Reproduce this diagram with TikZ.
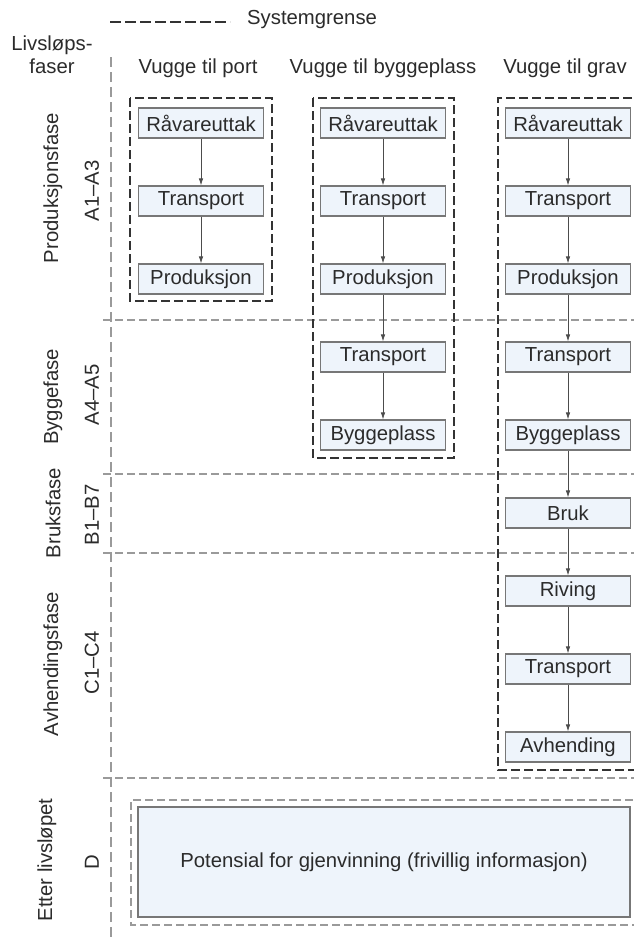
\documentclass[tikz,border=0pt]{standalone}
\usepackage{fontspec}
\setmainfont{Liberation Sans}
\usetikzlibrary{arrows.meta}
\definecolor{boxfill}{HTML}{EEF4FB}
\definecolor{boxline}{HTML}{777777}
\definecolor{txt}{HTML}{2B2B2B}
\definecolor{phaseline}{HTML}{9A9A9A}
\definecolor{sysline}{HTML}{333333}
\tikzset{
  proc/.style={draw=boxline, line width=1.1pt, fill=boxfill, minimum width=125pt, minimum height=30pt, inner sep=0pt, text=txt, font=\fontsize{20.3}{23}\selectfont},
  lbl/.style={text=txt, inner sep=0pt, font=\fontsize{20.3}{23}\selectfont},
  rlbl/.style={lbl, rotate=90},
  flow/.style={draw=black!70, line width=0.8pt, -{Latex[length=7pt,width=4.5pt]}},
  phasesep/.style={draw=phaseline, line width=1.2pt, dash pattern=on 8pt off 4pt},
  sysbound/.style={draw=sysline, line width=2.4pt, dash pattern=on 9pt off 4pt},
  dthin/.style={draw=phaseline, line width=1.1pt, dash pattern=on 8pt off 4pt}
}
\begin{document}
\begin{tikzpicture}[x=1pt,y=-1pt]
\useasboundingbox (0,0) rectangle (634,940);
\fill[white] (0,0) rectangle (634,940);

% legend
\coordinate (lgA) at (110,22);
\coordinate (lgB) at (230,22);
\draw[sysbound, line width=2.1pt, dash pattern=on 11pt off 4pt] (lgA) -- (lgB);
\node[lbl, anchor=west] (legend) at (247,20) {Systemgrense};

% left header
\node[lbl, align=center] (livs) at (52,55) {Livsløps-\\faser};

% column headers
\node[lbl] (h1) at (198,68) {Vugge til port};
\node[lbl] (h2) at (383,68) {Vugge til byggeplass};
\node[lbl] (h3) at (565,68) {Vugge til grav};

% left vertical dashed line
\coordinate (vtop) at (111,57);
\coordinate (vbot) at (111,942);
\draw[draw=phaseline, line width=1.3pt, dash pattern=on 10pt off 5pt] (vtop) -- (vbot);

% phase separators
\foreach \yy/\nm in {320/s1,474/s2,553/s3,778/s4}{
  \coordinate (\nm a) at (103,\yy);
  \coordinate (\nm b) at (636,\yy);
  \draw[phasesep] (\nm a) -- (\nm b);
}

% phase labels
\node[rlbl] (p1) at (53,188) {Produksjonsfase};
\node[rlbl] (c1) at (92,191) {A1–A3};
\node[rlbl] (p2) at (53,397) {Byggefase};
\node[rlbl] (c2) at (92,395) {A4–A5};
\node[rlbl] (p3) at (53,513) {Bruksfase};
\node[rlbl] (c3) at (92,515) {B1–B7};
\node[rlbl] (p4) at (53,664) {Avhendingsfase};
\node[rlbl] (c4) at (92,663) {C1–C4};
\node[rlbl] (p5) at (47,860) {Etter livsløpet};
\node[rlbl] (c5) at (92,862) {D};

% system boundaries
\draw[sysbound] (130,98) rectangle (272,301);
\draw[sysbound] (313,98) rectangle (454,458);
\draw[sysbound] (645,98) -- (498,98) -- (498,770) -- (645,770);

% column 1
\node[proc] (a1) at (201,123) {Råvareuttak};
\node[proc] (a2) at (201,201) {Transport};
\node[proc] (a3) at (201,279) {Produksjon};
\draw[flow] (a1) -- (a2);
\draw[flow] (a2) -- (a3);

% column 2
\node[proc] (b1) at (383,123) {Råvareuttak};
\node[proc] (b2) at (383,201) {Transport};
\node[proc] (b3) at (383,279) {Produksjon};
\node[proc] (b4) at (383,357) {Transport};
\node[proc] (b5) at (383,435) {Byggeplass};
\draw[flow] (b1) -- (b2);
\draw[flow] (b2) -- (b3);
\draw[flow] (b3) -- (b4);
\draw[flow] (b4) -- (b5);

% column 3
\node[proc] (g1) at (568,123) {Råvareuttak};
\node[proc] (g2) at (568,201) {Transport};
\node[proc] (g3) at (568,279) {Produksjon};
\node[proc] (g4) at (568,357) {Transport};
\node[proc] (g5) at (568,435) {Byggeplass};
\node[proc] (g6) at (568,513) {Bruk};
\node[proc] (g7) at (568,591) {Riving};
\node[proc] (g8) at (568,669) {Transport};
\node[proc] (g9) at (568,747) {Avhending};
\draw[flow] (g1) -- (g2);
\draw[flow] (g2) -- (g3);
\draw[flow] (g3) -- (g4);
\draw[flow] (g4) -- (g5);
\draw[flow] (g5) -- (g6);
\draw[flow] (g6) -- (g7);
\draw[flow] (g7) -- (g8);
\draw[flow] (g8) -- (g9);

% module D
\draw[dthin] (645,800) -- (131,800) -- (131,925) -- (645,925);
\node[proc, minimum width=492pt, minimum height=110pt] (pot) at (384,862) {Potensial for gjenvinning (frivillig informasjon)};
\end{tikzpicture}
\end{document}
